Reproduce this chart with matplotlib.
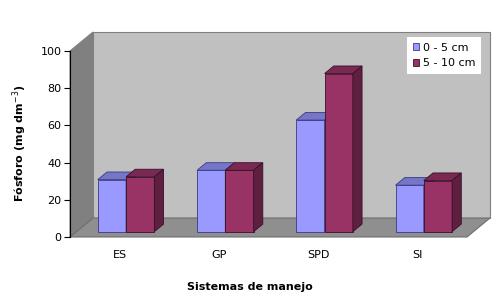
import matplotlib
matplotlib.use('Agg')
import matplotlib.pyplot as plt
from matplotlib.patches import Polygon

categories = ['ES', 'GP', 'SPD', 'SI']
series_names = ['0 - 5 cm', '5 - 10 cm']
values_0_5 = [28, 33, 60, 25]
values_5_10 = [29.5, 33, 85, 27.5]
y_ticks = [0, 20, 40, 60, 80, 100]

front_colors = ['#9999FF', '#993366']
top_colors = ['#7676C8', '#7A2952']
side_colors = ['#6B6BB3', '#5E1F40']
edge_colors = ['#3A3A80', '#3A1028']

# oblique "3D" depth vector of the whole plot (data units)
depth_x, depth_y = 0.232, 10.2
bar_w = 0.285
bar_front = 0.28   # fraction of depth where bar front sits
bar_depth = 0.40   # fraction of depth taken by a bar

fig = plt.figure(figsize=(5, 3), dpi=100)
ax = fig.add_axes([70 / 500, 63 / 300, 420 / 500, 205 / 300])
ax.set_xlim(-0.5, 3.5 + depth_x)
ax.set_ylim(0, 100 + depth_y)
ax.patch.set_visible(False)

n = len(categories)
# walls and floor
side_wall = Polygon([(-0.5, 0), (-0.5, 100), (-0.5 + depth_x, 100 + depth_y),
                     (-0.5 + depth_x, depth_y)],
                    facecolor='#808080', edgecolor='#808080', lw=0.8, zorder=0)
back_wall = Polygon([(-0.5 + depth_x, depth_y), (-0.5 + depth_x, 100 + depth_y),
                     (n - 0.5 + depth_x, 100 + depth_y), (n - 0.5 + depth_x, depth_y)],
                    facecolor='#C0C0C0', edgecolor='#808080', lw=0.8, zorder=0)
floor = Polygon([(-0.5, 0), (n - 0.5, 0), (n - 0.5 + depth_x, depth_y),
                 (-0.5 + depth_x, depth_y)],
                facecolor='#8F8F8F', edgecolor='#6E6E6E', lw=0.8, zorder=0)
for p in (side_wall, back_wall, floor):
    p.set_clip_on(False)
    ax.add_patch(p)

sx, sy = bar_front * depth_x, bar_front * depth_y
ddx, ddy = bar_depth * depth_x, bar_depth * depth_y

handles = []
for j, vals in enumerate([values_0_5, values_5_10]):
    xs = [i + sx - bar_w + j * bar_w for i in range(n)]
    bars = ax.bar(xs, vals, width=bar_w, bottom=sy, align='edge',
                  color=front_colors[j], edgecolor=edge_colors[j], lw=0.6,
                  zorder=2 + j, label=series_names[j])
    handles.append(bars)
    for x0, v in zip(xs, vals):
        t = sy + v
        top = Polygon([(x0, t), (x0 + bar_w, t), (x0 + bar_w + ddx, t + ddy),
                       (x0 + ddx, t + ddy)],
                      facecolor=top_colors[j], edgecolor=edge_colors[j],
                      lw=0.6, zorder=2 + j)
        side = Polygon([(x0 + bar_w, sy), (x0 + bar_w, t),
                        (x0 + bar_w + ddx, t + ddy), (x0 + bar_w + ddx, sy + ddy)],
                       facecolor=side_colors[j], edgecolor=edge_colors[j],
                       lw=0.6, zorder=2 + j)
        ax.add_patch(top)
        ax.add_patch(side)

# axes
for s in ('top', 'right', 'bottom'):
    ax.spines[s].set_visible(False)
ax.spines['left'].set_bounds(0, 100)
ax.spines['left'].set_linewidth(0.8)
ax.set_yticks(y_ticks)
ax.tick_params(axis='y', length=4, width=0.8, pad=2, labelsize=8)
ax.set_xticks(range(n))
ax.set_xticklabels(categories)
ax.tick_params(axis='x', length=0, pad=9, labelsize=8)

fig.text(0.04, (300 - 143) / 300, 'Fósforo (mg dm$^{-3}$)',
         rotation=90, ha='center', va='center', fontsize=8, fontweight='bold')
fig.text(250 / 500, 1 - 287 / 300, 'Sistemas de manejo', ha='center',
         va='center', fontsize=8, fontweight='bold')

leg = fig.legend(handles=handles, loc='upper left',
                 bbox_to_anchor=(407 / 500, 1 - 37 / 300), fontsize=8,
                 frameon=True, fancybox=False, framealpha=1,
                 handlelength=0.6, handleheight=0.6, handletextpad=0.3,
                 borderpad=0.5, labelspacing=0.5, borderaxespad=0)
leg.get_frame().set_edgecolor('white')
leg.get_frame().set_linewidth(0)

fig.savefig('out.png', dpi=100)
